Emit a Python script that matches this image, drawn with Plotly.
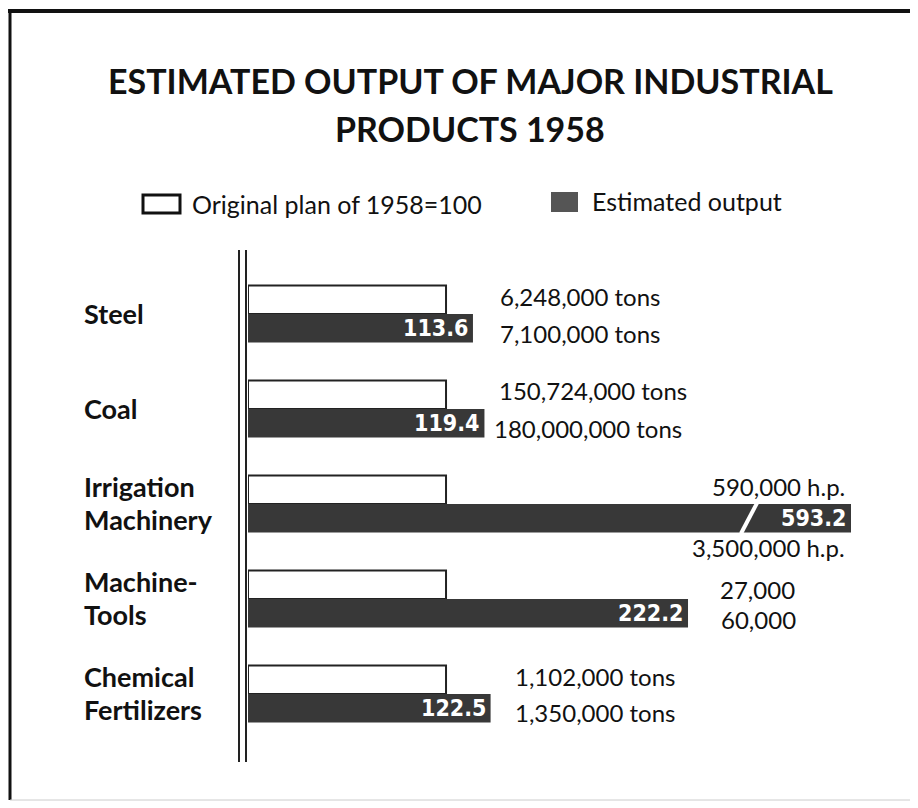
import plotly.graph_objects as go

# ---------------- data ----------------
categories = ["Steel", "Coal", "Irrigation<br>Machinery", "Machine-<br>Tools", "Chemical<br>Fertilizers"]
plan_index = [100, 100, 100, 100, 100]
estimated_index = [113.6, 119.4, 593.2, 222.2, 122.5]
plan_labels = ["6,248,000 tons", "150,724,000 tons", "590,000 h.p.", "27,000", "1,102,000 tons"]
estimated_labels = ["7,100,000 tons", "180,000,000 tons", "3,500,000 h.p.", "60,000", "1,350,000 tons"]
value_texts = ["113.6", "119.4", "593.2", "222.2", "122.5"]

# ---------------- layout helpers ----------------
W, H = 918, 808
OFF = 8                      # page body margin: figure starts at (8, 8) on the page
L, R, T, B = 240, 75, 242, 54
PW, PH = W - L - R, H - T - B
XMAX = 304.5                 # axis break: values above this are truncated
YR = [4.716, -0.674]


def px(x):                   # page pixel -> paper x
    return (x - OFF - L) / PW


def py(y):                   # page pixel -> paper y
    return (H - B - (y - OFF)) / PH


DARK = "#383838"
FONT = "Lato, 'DejaVu Sans', sans-serif"
NUMFONT = "'Liberation Sans Narrow', 'DejaVu Sans Condensed', 'DejaVu Sans', sans-serif"

fig = go.Figure()
idx = list(range(len(categories)))
fig.add_trace(go.Bar(
    y=idx, x=plan_index, orientation="h", width=0.3, offset=-0.3,
    marker=dict(color="white", line=dict(color="#222", width=2)),
    hoverinfo="skip", showlegend=False))
fig.add_trace(go.Bar(
    y=idx, x=estimated_index, orientation="h", width=0.3, offset=0.0,
    marker=dict(color=DARK, line=dict(width=0)),
    hoverinfo="skip", showlegend=False))

ann = []
shapes = []

# value labels inside dark bars
for i, (v, t) in enumerate(zip(estimated_index, value_texts)):
    ann.append(dict(x=min(v, XMAX), y=i + 0.15, xref="x", yref="y", text="<b>" + t + "</b>",
                    xanchor="right", yanchor="middle", xshift=-3, showarrow=False,
                    font=dict(family=NUMFONT, size=23, color="white")))

# category labels (one annotation per line for tight line spacing)
for i, c in enumerate(categories):
    lines = c.split("<br>")
    n = len(lines)
    for k, line in enumerate(lines):
        shift = (k - (n - 1) / 2) * 33
        ann.append(dict(x=px(82), y=i, xref="paper", yref="y", text="<b>" + line + "</b>",
                        xanchor="left", yanchor="middle", align="left", showarrow=False,
                        yshift=-shift + 1,
                        font=dict(family=FONT, size=27, color="#111")))

# right-hand unit labels (positions per row)
label_pos = [  # (anchor, x_top, x_bottom, dy_top, dy_bottom)
    ("left", 498, 498, -0.18, 0.20),
    ("left", 497, 492, -0.20, 0.20),
    ("right", 847, 847, -0.18, 0.46),
    ("right", 797, 798, -0.10, 0.22),
    ("left", 513, 513, -0.18, 0.20),
]
for i, (a, xt, xb, dt, db) in enumerate(label_pos):
    ann.append(dict(x=px(xt), y=i + dt, xref="paper", yref="y", text=plan_labels[i],
                    xanchor=a, yanchor="middle", showarrow=False,
                    font=dict(family=FONT, size=24, color="#111")))
    ann.append(dict(x=px(xb), y=i + db, xref="paper", yref="y", text=estimated_labels[i],
                    xanchor=a, yanchor="middle", showarrow=False,
                    font=dict(family=FONT, size=24, color="#111")))

# title
ann.append(dict(x=px(470), y=py(80), xref="paper", yref="paper",
                text="<b>ESTIMATED OUTPUT OF MAJOR INDUSTRIAL</b>", showarrow=False,
                xanchor="center", yanchor="middle", font=dict(family=FONT, size=34, color="#111")))
ann.append(dict(x=px(470), y=py(128), xref="paper", yref="paper",
                text="<b>PRODUCTS 1958</b>", showarrow=False,
                xanchor="center", yanchor="middle", font=dict(family=FONT, size=34, color="#111")))

# legend
shapes.append(dict(type="rect", xref="paper", yref="paper", x0=px(143), x1=px(180), y0=py(195), y1=py(213),
                   line=dict(color="#111", width=3), fillcolor="white"))
ann.append(dict(x=px(190), y=py(204), xref="paper", yref="paper", text="Original plan of 1958=100",
                xanchor="left", yanchor="middle", showarrow=False,
                font=dict(family=FONT, size=25, color="#111")))
shapes.append(dict(type="rect", xref="paper", yref="paper", x0=px(551), x1=px(578), y0=py(192), y1=py(212),
                   line=dict(width=0), fillcolor="#555"))
ann.append(dict(x=px(590), y=py(201), xref="paper", yref="paper", text="Estimated output",
                xanchor="left", yanchor="middle", showarrow=False,
                font=dict(family=FONT, size=25, color="#111")))

# double vertical axis line
for xl in (239, 246):
    shapes.append(dict(type="line", xref="paper", yref="paper", x0=px(xl), x1=px(xl), y0=py(250), y1=py(762),
                       line=dict(color="#222", width=2)))

# break mark on the truncated bar
shapes.append(dict(type="line", xref="paper", yref="y", x0=px(741), x1=px(757), y0=2.31, y1=1.99,
                   line=dict(color="white", width=4)))

# frame
shapes.append(dict(type="line", xref="paper", yref="paper", x0=px(8), x1=px(918), y0=py(11), y1=py(11),
                   line=dict(color="#111", width=4)))
shapes.append(dict(type="line", xref="paper", yref="paper", x0=px(10), x1=px(10), y0=py(10), y1=py(800),
                   line=dict(color="#111", width=3)))
shapes.append(dict(type="line", xref="paper", yref="paper", x0=px(914), x1=px(914), y0=py(12), y1=py(800),
                   line=dict(color="#bbb", width=1)))
shapes.append(dict(type="line", xref="paper", yref="paper", x0=px(10), x1=px(914), y0=py(800), y1=py(800),
                   line=dict(color="#ccc", width=1)))

fig.update_layout(
    width=W, height=H,
    margin=dict(l=L, r=R, t=T, b=B),
    paper_bgcolor="white", plot_bgcolor="rgba(0,0,0,0)",
    xaxis=dict(range=[0, XMAX], visible=False, fixedrange=True),
    yaxis=dict(range=YR, visible=False, fixedrange=True),
    annotations=ann, shapes=shapes, showlegend=False,
)
fig.write_html("out.html")
